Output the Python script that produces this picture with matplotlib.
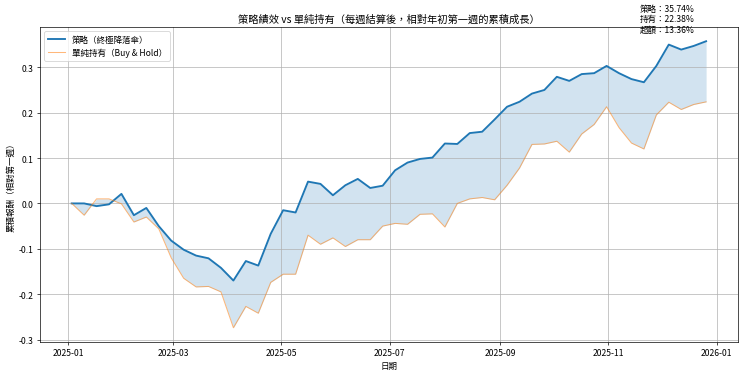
import matplotlib
matplotlib.use("Agg")
import matplotlib.pyplot as plt
import pandas as pd
import numpy as np

plt.rcParams['font.family'] = ['Noto Sans CJK TC', 'DejaVu Sans']
plt.rcParams['axes.unicode_minus'] = False

dates = pd.date_range("2025-01-03", "2025-12-26", freq="7D")

strategy = [0.000, 0.000, -0.006, -0.002, 0.021, -0.026, -0.010, -0.050, -0.082, -0.102,
            -0.115, -0.121, -0.142, -0.170, -0.127, -0.137, -0.067, -0.015, -0.020, 0.048,
            0.043, 0.018, 0.040, 0.054, 0.034, 0.039, 0.073, 0.090, 0.098, 0.101,
            0.132, 0.131, 0.155, 0.158, 0.185, 0.213, 0.224, 0.242, 0.250, 0.279,
            0.270, 0.285, 0.287, 0.303, 0.287, 0.274, 0.267, 0.303, 0.350, 0.339,
            0.347, 0.3574]

buyhold = [0.000, -0.026, 0.010, 0.010, -0.001, -0.041, -0.030, -0.056, -0.120, -0.165,
           -0.184, -0.183, -0.195, -0.274, -0.227, -0.242, -0.174, -0.156, -0.156, -0.070,
           -0.090, -0.076, -0.095, -0.080, -0.080, -0.050, -0.044, -0.046, -0.024, -0.023,
           -0.052, 0.000, 0.010, 0.013, 0.008, 0.040, 0.078, 0.130, 0.131, 0.137,
           0.113, 0.153, 0.174, 0.213, 0.167, 0.133, 0.120, 0.195, 0.223, 0.207,
           0.218, 0.2238]

title = "策略績效 vs 單純持有（每週結算後，相對年初第一週的累積成長）"
label_strategy = "策略（終極降落傘）"
label_hold = "單純持有（Buy & Hold）"
summary = "策略：35.74%\n持有：22.38%\n超額：13.36%"

fig, ax = plt.subplots(figsize=(12, 6.113), dpi=61.67)
fig.subplots_adjust(left=0.054, right=0.997, top=0.926, bottom=0.090)

ax.plot(dates, strategy, color='#1f77b4', lw=2.2, label=label_strategy)
ax.plot(dates, buyhold, color='tab:orange', alpha=0.55, lw=1.2, label=label_hold)
ax.fill_between(dates, strategy, buyhold, color='#1f77b4', alpha=0.2, lw=0)

ax.set_title(title)
ax.set_xlabel("日期")
ax.set_ylabel("累積報酬（相對第一週）")
ax.grid(True)
ax.legend(loc='upper left')

fig.text(667 / 740, 1 - 5 / 377, summary, ha='center', va='top')

fig.savefig("out.png", dpi=61.67)
